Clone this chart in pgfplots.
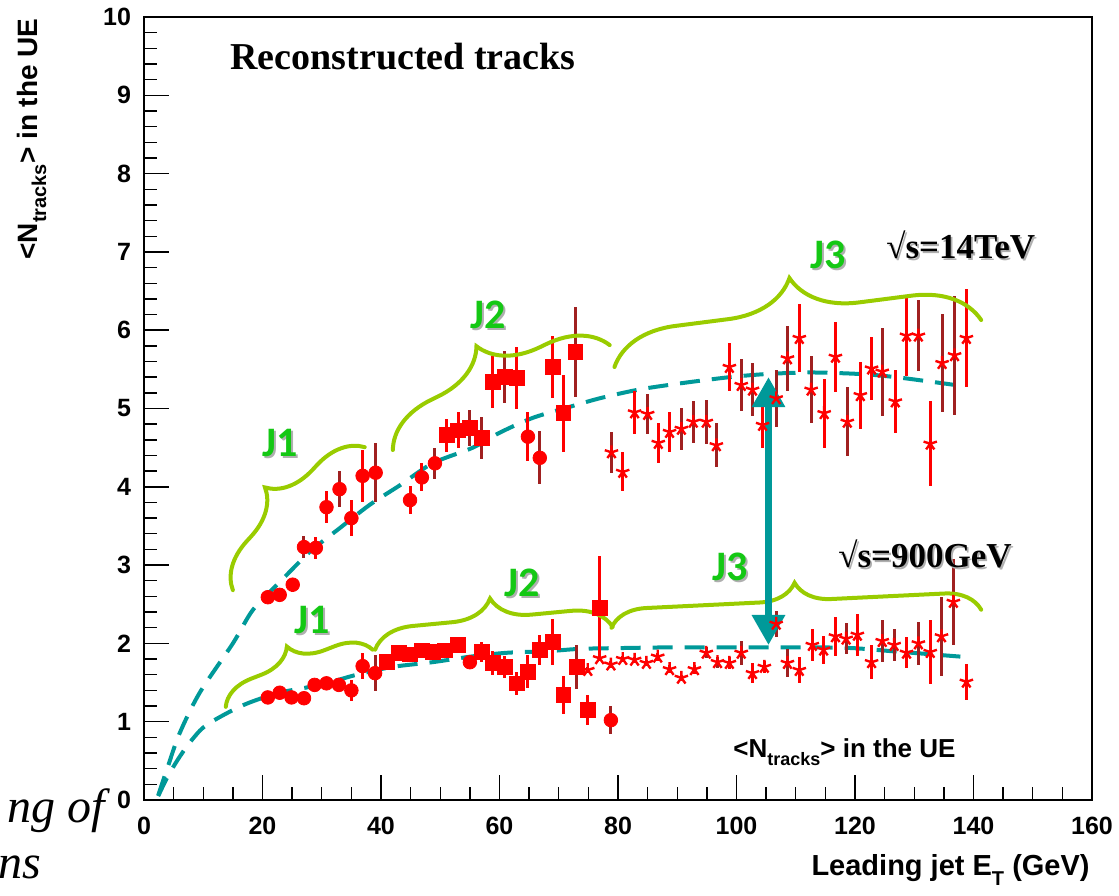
\documentclass[border=0pt]{standalone}
\usepackage{pgfplots}
\pgfplotsset{compat=1.18}
\usepackage{pgfplotstable}
\usepackage{fontspec}
\setmainfont{Liberation Serif}
\setsansfont{Liberation Sans}
\newfontfamily\jfont{Carlito}
\usetikzlibrary{decorations.pathreplacing,arrows.meta}
\definecolor{tealc}{RGB}{0,153,153}
\definecolor{bracec}{RGB}{153,204,0}
\definecolor{jgreen}{RGB}{20,200,20}
\definecolor{darkbar}{RGB}{160,32,32}
\definecolor{shad}{RGB}{175,175,175}
\newcommand{\dpl}[2]{\addplot[scatter, only marks, scatter src=explicit symbolic,
  scatter/classes={o={mark=*,mark size=3.4pt,red}, s={mark=square*,mark size=3.7pt,red}, t={mark=star,mark size=3.5pt,red,line width=1.2pt}},
  error bars/.cd, y dir=both, y explicit, error mark=none, error bar style={line width=1.5pt, color=#2}]
  table[x=x,y=y,y error=ey,meta=k]{#1};}

\pgfplotstableread{
x y ey k
22.9 2.62 0.08 o
25.1 2.75 0.09 o
29.0 3.22 0.14 o
30.8 3.74 0.20 o
35.0 3.60 0.23 o
36.9 4.14 0.33 o
44.9 3.83 0.18 o
46.9 4.12 0.18 o
51.1 4.66 0.21 s
53.0 4.72 0.23 s
58.9 5.34 0.33 s
62.9 5.39 0.40 s
64.8 4.64 0.31 o
69.0 5.53 0.40 s
70.8 4.94 0.49 s
80.8 4.19 0.25 t
82.8 4.95 0.27 t
86.8 4.56 0.25 t
88.7 4.70 0.25 t
98.8 5.53 0.31 t
104.4 4.79 0.29 t
110.6 5.90 0.43 t
114.8 4.94 0.44 t
116.7 5.66 0.45 t
120.9 5.17 0.43 t
122.8 5.51 0.40 t
126.8 5.09 0.40 t
128.7 5.93 0.52 t
132.7 4.55 0.54 t
138.8 5.90 0.63 t
}\hiA

\pgfplotstableread{
x y ey k
20.9 2.59 0.08 o
27.0 3.23 0.14 o
33.0 3.97 0.23 o
39.1 4.18 0.38 o
49.1 4.30 0.20 o
55.0 4.75 0.23 s
57.0 4.62 0.27 s
60.9 5.40 0.33 s
66.8 4.37 0.34 o
72.8 5.72 0.57 s
78.9 4.44 0.26 t
85.0 4.93 0.26 t
90.7 4.74 0.27 t
92.7 4.83 0.27 t
94.9 4.83 0.28 t
96.6 4.53 0.28 t
100.8 5.30 0.33 t
102.7 5.24 0.34 t
106.7 5.13 0.36 t
108.6 5.64 0.42 t
112.6 5.24 0.43 t
118.7 4.83 0.44 t
124.6 5.47 0.56 t
130.7 5.93 0.45 t
134.7 5.58 0.63 t
136.8 5.68 0.76 t
}\hiB

\pgfplotstableread{
x y ey k
20.9 1.31 0.04 o
24.9 1.31 0.04 o
27.0 1.30 0.04 o
30.8 1.49 0.06 o
35.0 1.40 0.13 o
36.9 1.71 0.17 o
41.0 1.76 0.06 s
43.0 1.88 0.05 s
44.9 1.86 0.05 s
46.9 1.91 0.06 s
50.8 1.91 0.07 s
53.0 1.98 0.07 s
55.0 1.76 0.06 o
57.0 1.89 0.13 s
58.9 1.75 0.15 s
60.9 1.70 0.14 s
62.9 1.49 0.15 s
64.8 1.64 0.21 s
66.8 1.92 0.19 s
69.0 2.02 0.29 s
70.8 1.34 0.24 s
74.9 1.15 0.19 s
76.9 2.45 0.67 s
76.9 1.81 0.04 t
78.8 1.73 0.04 t
80.8 1.80 0.04 t
82.8 1.79 0.04 t
84.8 1.75 0.04 t
86.7 1.83 0.05 t
88.7 1.67 0.05 t
90.7 1.56 0.04 t
92.9 1.67 0.06 t
98.8 1.75 0.08 t
102.7 1.62 0.13 t
104.7 1.70 0.08 t
110.6 1.66 0.16 t
112.8 1.98 0.21 t
114.7 1.92 0.18 t
116.7 2.09 0.25 t
120.4 2.11 0.27 t
122.8 1.76 0.22 t
128.7 1.88 0.20 t
132.7 1.89 0.41 t
138.8 1.51 0.23 t
}\loA

\pgfplotstableread{
x y ey k
22.9 1.37 0.05 o
28.8 1.47 0.05 o
32.9 1.47 0.07 o
39.0 1.62 0.23 o
48.7 1.89 0.06 s
73.0 1.70 0.28 s
74.9 1.66 0.04 t
78.8 1.02 0.18 o
94.9 1.88 0.07 t
96.8 1.76 0.07 t
100.8 1.88 0.15 t
106.7 2.25 0.17 t
108.6 1.75 0.18 t
118.5 2.06 0.20 t
124.6 2.03 0.27 t
126.6 1.98 0.20 t
130.7 2.00 0.27 t
134.6 2.09 0.50 t
136.6 2.53 0.55 t
}\loB

\begin{document}
\begin{tikzpicture}
\useasboundingbox (-72pt,-47.5pt) rectangle (487.5pt,400pt);
\begin{axis}[at={(0,0)}, anchor=south west, scale only axis,
  width=474pt, height=391.5pt,
  xmin=0, xmax=160, ymin=0, ymax=10,
  xtick={0,20,...,160}, ytick={0,1,...,10},
  minor x tick num=3, minor y tick num=4,
  tick align=inside, tick pos=left,
  major tick length=12.5pt, minor tick length=6.5pt,
  axis line style={line width=1pt},
  tick style={black, line width=0.7pt},
  ticklabel style={font=\sffamily\bfseries\fontsize{12.5}{12.5}\selectfont},
  /pgf/number format/assume math mode=true,
  xticklabel style={yshift=-5pt},
  yticklabel style={xshift=-3pt},
]
% fits
\addplot[tealc, line width=2pt, dash pattern=on 10pt off 6pt, smooth] coordinates {
(2.4,0.06)(4,0.42)(6,0.85)(9.4,1.37)(15,2.0)(18.4,2.43)(23,2.79)(28,3.17)(33,3.47)(38.1,3.77)(43.2,4.02)(48.7,4.3)(55.5,4.5)(60,4.69)(65.6,4.88)(71.8,5.02)(76.9,5.13)(83.4,5.24)(90.4,5.32)(98.8,5.4)(105,5.44)(112,5.46)(118,5.45)(123,5.43)(128,5.39)(135,5.32)(138.8,5.28)};
\addplot[tealc, line width=2pt, dash pattern=on 10pt off 6pt, smooth] coordinates {
(2.4,0.05)(4,0.3)(6,0.55)(8,0.76)(10.6,0.96)(16.7,1.21)(22.9,1.37)(29.7,1.47)(35.9,1.6)(42,1.7)(48.7,1.76)(55,1.83)(61.2,1.88)(68,1.9)(73.5,1.93)(80,1.94)(90,1.95)(105,1.95)(112.8,1.95)(119.6,1.94)(126.3,1.9)(133,1.86)(138,1.83)};
% data
\dpl{\hiA}{red}
\dpl{\hiB}{darkbar}
\dpl{\loA}{red}
\dpl{\loB}{darkbar}
% braces
\draw[bracec, line width=2pt, line cap=round, decorate, decoration={brace, amplitude=23pt}] (axis cs:15.0,2.68) -- (axis cs:37.3,4.51);
\draw[bracec, line width=2pt, line cap=round, decorate, decoration={brace, amplitude=28.5pt}] (axis cs:42.0,4.47) -- (axis cs:78.6,5.81);
\draw[bracec, line width=2pt, line cap=round, decorate, decoration={brace, amplitude=33pt}] (axis cs:79.4,5.53) -- (axis cs:141.3,6.13);
\draw[bracec, line width=2pt, line cap=round, decorate, decoration={brace, amplitude=17pt}] (axis cs:13.8,1.19) -- (axis cs:38.6,1.92);
\draw[bracec, line width=2pt, line cap=round, decorate, decoration={brace, amplitude=20pt}] (axis cs:39.0,1.92) -- (axis cs:79.1,2.21);
\draw[bracec, line width=2pt, line cap=round, decorate, decoration={brace, amplitude=18pt}] (axis cs:78.9,2.20) -- (axis cs:141.3,2.43);
% arrow
\draw[tealc, line width=3.3pt, {Triangle[width=16pt,length=15pt]}-{Triangle[width=16pt,length=15pt]}] (axis cs:105.4,1.98) -- (axis cs:105.4,5.40);
\end{axis}
% texts
\node[anchor=west, inner sep=0, font=\bfseries\fontsize{19}{19}\selectfont] at (43pt,371.5pt) {Reconstructed tracks};
\foreach \px/\py/\t in {68pt/178.5pt/J1, 172pt/242.5pt/J2, 342pt/272.5pt/J3, 84pt/90pt/J1, 189pt/108.5pt/J2, 293pt/116.5pt/J3}{
  \node[inner sep=0, font=\jfont\bfseries\fontsize{21}{21}\selectfont, text=shad, xshift=1pt, yshift=-1pt] at (\px,\py) {\t};
  \node[inner sep=0, font=\jfont\bfseries\fontsize{21}{21}\selectfont, text=jgreen] at (\px,\py) {\t};
}
\node[anchor=west, inner sep=0, font=\bfseries\fontsize{17.5}{17.5}\selectfont, text=shad, xshift=0.9pt, yshift=-0.9pt] at (371pt,277.5pt) {√s=14TeV};
\node[anchor=west, inner sep=0, font=\bfseries\fontsize{17.5}{17.5}\selectfont] at (371pt,277.5pt) {√s=14TeV};
\node[anchor=west, inner sep=0, font=\bfseries\fontsize{17.5}{17.5}\selectfont, text=shad, xshift=0.9pt, yshift=-0.9pt] at (347pt,123pt) {√s=900GeV};
\node[anchor=west, inner sep=0, font=\bfseries\fontsize{17.5}{17.5}\selectfont] at (347pt,123pt) {√s=900GeV};
\node[anchor=west, inner sep=0, font=\sffamily\bfseries\fontsize{13}{13}\selectfont] at (294.5pt,24pt) {<N\raisebox{-0.55ex}{\fontsize{9}{9}\selectfont tracks}> in the UE};
\node[anchor=east, rotate=90, inner sep=0, font=\sffamily\bfseries\fontsize{14}{14}\selectfont] at (-56pt,391pt) {<N\raisebox{-0.55ex}{\fontsize{10}{10}\selectfont tracks}> in the UE};
\node[anchor=east, inner sep=0, font=\sffamily\bfseries\fontsize{14.5}{14.5}\selectfont] at (473pt,-35pt) {Leading jet E\raisebox{-0.7ex}{\fontsize{10}{10}\selectfont T} (GeV)};
\node[anchor=base east, inner sep=0, font=\itshape\fontsize{24}{24}\selectfont] at (-19.5pt,-11pt) {ng of};
\node[anchor=base east, inner sep=0, font=\itshape\fontsize{24}{24}\selectfont] at (-51pt,-39pt) {ns};
\end{tikzpicture}
\end{document}
